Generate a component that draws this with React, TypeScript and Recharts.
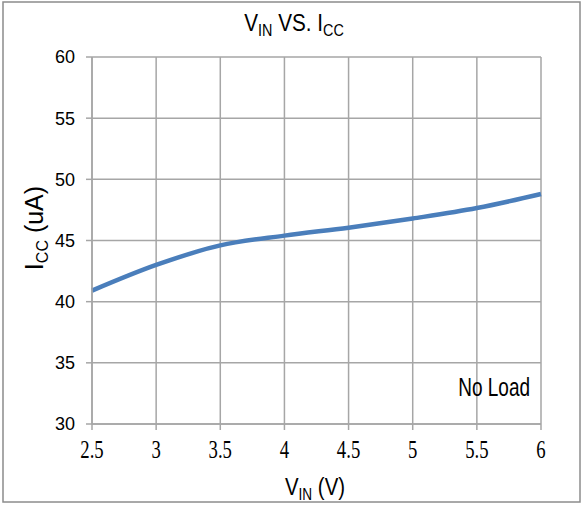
import { CartesianGrid, Customized, Line, LineChart, XAxis, YAxis } from "recharts";

const vin = [2.5, 3, 3.5, 4, 4.5, 5, 5.5, 6];
const icc = [40.9, 43.0, 44.6, 45.4, 46.05, 46.8, 47.65, 48.8];
const xTicks = [2.5, 3, 3.5, 4, 4.5, 5, 5.5, 6];
const yTicks = [30, 35, 40, 45, 50, 55, 60];

const data = vin.map((v, i) => ({ vin: v, icc: icc[i] }));

const sans = "'Liberation Sans', Arial, sans-serif";
const serif = "'Liberation Serif', 'DejaVu Serif', serif";

// compressed tick text, the original uses a narrow serif
const XTick = (props: any) => {
  const { x, y, payload } = props;
  return (
    <g transform={`translate(${x},${y}) scale(0.72,1)`}>
      <text x={0} y={0} dy={22} textAnchor="middle" fontSize={26} fill="#000" style={{ fontFamily: serif }}>
        {payload.value}
      </text>
    </g>
  );
};

const Labels = () => (
  <g fontFamily={sans} fill="#000">
    <rect x={3} y={2} width={577} height={500} fill="none" stroke="#8c8c8c" strokeWidth={1.5} />
    <g transform="translate(294,31) scale(0.9,1)">
      <text x={0} y={0} textAnchor="middle" fontSize={23}>
        V<tspan fontSize={16} dy={5}>IN</tspan>
        <tspan dy={-5}> VS. I</tspan>
        <tspan fontSize={16} dy={5}>CC</tspan>
      </text>
    </g>
    <g transform="translate(315,495) scale(0.85,1)">
      <text x={0} y={0} textAnchor="middle" fontSize={24}>
        V<tspan fontSize={16} dy={5}>IN</tspan>
        <tspan dy={-5}> (V)</tspan>
      </text>
    </g>
    <g transform="translate(43,228) rotate(-90)">
      <text x={0} y={0} textAnchor="middle" fontSize={25}>
        I<tspan fontSize={16} dy={5}>CC</tspan>
        <tspan dy={-5}> (uA)</tspan>
      </text>
    </g>
    <g transform="translate(530,396) scale(0.76,1)">
      <text x={0} y={0} textAnchor="end" fontSize={25}>
        No Load
      </text>
    </g>
  </g>
);

export default function App() {
  return (
    <div style={{ position: "absolute", left: 0, top: 0, background: "#fff" }}>
      <LineChart
        width={584}
        height={505}
        data={data}
        margin={{ top: 57, right: 43, left: 42, bottom: 31 }}
      >
        <CartesianGrid stroke="#a6a6a6" strokeWidth={1.5} />
        <XAxis
          dataKey="vin"
          type="number"
          domain={[2.5, 6]}
          ticks={xTicks}
          height={50}
          stroke="#a6a6a6"
          strokeWidth={1.5}
          tickSize={6}
          tickMargin={6}
          tick={<XTick />}
        />
        <YAxis
          type="number"
          domain={[30, 60]}
          ticks={yTicks}
          width={50}
          stroke="#a6a6a6"
          strokeWidth={1.5}
          tickSize={6}
          tickMargin={11}
          tick={{ fill: "#000", fontSize: 18, fontFamily: sans }}
        />
        <Line
          type="monotone"
          dataKey="icc"
          stroke="#4a7ebb"
          strokeWidth={4.5}
          dot={false}
          isAnimationActive={false}
        />
        <Customized component={Labels} />
      </LineChart>
    </div>
  );
}
